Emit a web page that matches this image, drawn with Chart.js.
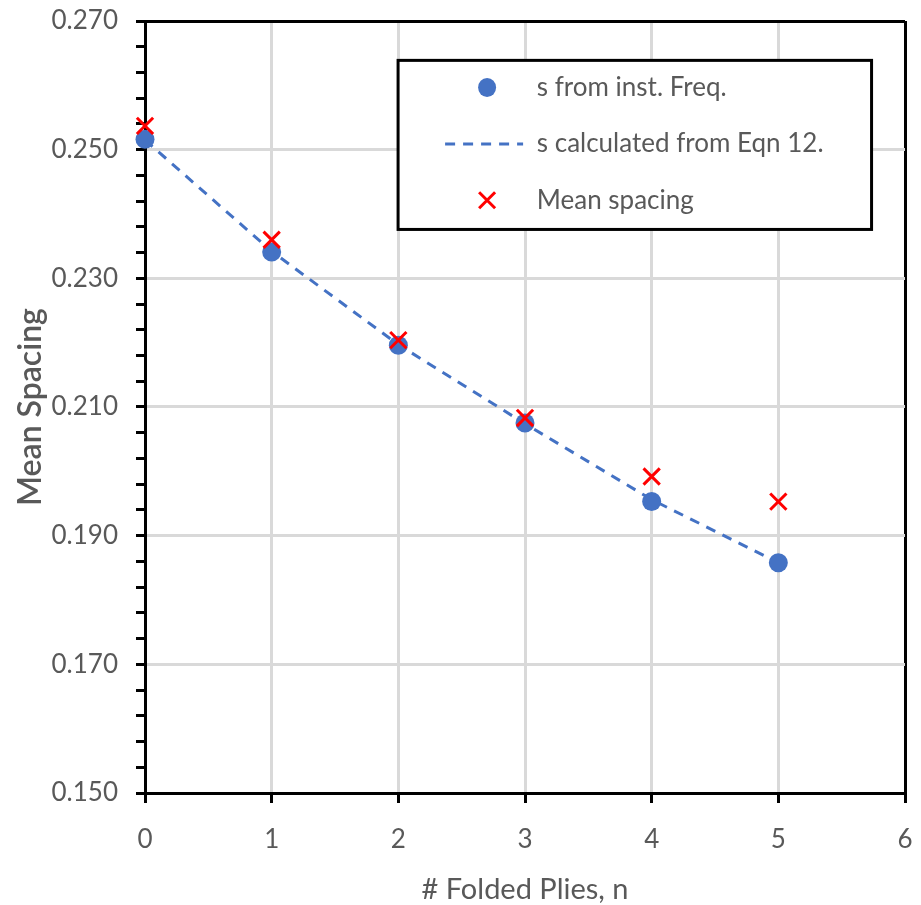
<!DOCTYPE html>
<html>
<head>
<meta charset="utf-8">
<script src="https://cdn.jsdelivr.net/npm/chart.js@4"></script>
<style>
  html, body { margin: 0; padding: 0; background: #ffffff; }
  #wrap { width: 921px; height: 905px; }
</style>
</head>
<body>
<div id="wrap"><canvas id="c" width="921" height="905"></canvas></div>
<script>
// Number of folded plies
const plies = [0, 1, 2, 3, 4, 5];
// Spacing derived from instantaneous frequency
const sInstFreq = [0.2516, 0.2341, 0.2196, 0.2075, 0.1953, 0.1858];
// Spacing predicted by Eqn 12
const sEqn12 = [0.2515, 0.2342, 0.2197, 0.2074, 0.1956, 0.1858];
// Measured mean spacing
const meanSpacing = [0.2537, 0.2360, 0.2204, 0.2083, 0.1992, 0.1953];

const seriesNames = ['s from inst. Freq.', 's calculated from Eqn 12.', 'Mean spacing'];
const xTitle = '# Folded Plies, n';
const yTitle = 'Mean Spacing';

const FONT = 'Lato, "Open Sans", sans-serif';
const GREY_TEXT = '#595959';
const GRID = '#d9d9d9';
const BLUE = '#4472c4';
const RED = '#ff0000';

const pts = (xs, ys) => xs.map((x, i) => ({ x: x, y: ys[i] }));

// Boxed legend drawn inside the plot area
const boxLegend = {
  id: 'boxLegend',
  afterDatasetsDraw(chart) {
    const { ctx, chartArea: a } = chart;
    const w = a.right - a.left, h = a.bottom - a.top;
    const L = a.left + 0.333 * w, R = a.left + 0.956 * w;
    const T = a.top + 0.051 * h, B = a.top + 0.270 * h;
    ctx.save();
    ctx.fillStyle = '#ffffff';
    ctx.fillRect(L, T, R - L, B - T);
    ctx.strokeStyle = '#000000';
    ctx.lineWidth = 3;
    ctx.strokeRect(L, T, R - L, B - T);

    const rowH = (B - T) / 3;
    const mx = L + 0.188 * (R - L);
    const tx = L + 0.293 * (R - L);
    ctx.font = '26px ' + FONT;
    ctx.textBaseline = 'middle';
    ctx.textAlign = 'left';
    chart.data.datasets.forEach((ds, i) => {
      const cy = T + rowH * (i + 0.5) - 1;
      if (i === 0) {
        ctx.beginPath();
        ctx.fillStyle = BLUE;
        ctx.ellipse(mx, cy, 9, 9.5, 0, 0, Math.PI * 2);
        ctx.fill();
      } else if (i === 1) {
        ctx.beginPath();
        ctx.strokeStyle = BLUE;
        ctx.lineWidth = 3;
        ctx.setLineDash([10, 8]);
        ctx.moveTo(mx - 42, cy);
        ctx.lineTo(mx + 36, cy);
        ctx.stroke();
        ctx.setLineDash([]);
      } else {
        ctx.beginPath();
        ctx.strokeStyle = RED;
        ctx.lineWidth = 3;
        const d = 8;
        ctx.moveTo(mx - d, cy - d); ctx.lineTo(mx + d, cy + d);
        ctx.moveTo(mx + d, cy - d); ctx.lineTo(mx - d, cy + d);
        ctx.stroke();
      }
      ctx.fillStyle = GREY_TEXT;
      ctx.fillText(ds.label, tx, cy);
    });
    ctx.restore();
  }
};

const isMajorY = v => Math.round(v * 1000) % 20 === 10;

new Chart(document.getElementById('c'), {
  type: 'scatter',
  data: {
    datasets: [
      {
        label: seriesNames[0],
        data: pts(plies, sInstFreq),
        pointStyle: 'circle',
        pointRadius: 9.5,
        pointHoverRadius: 9.5,
        backgroundColor: BLUE,
        borderColor: BLUE,
        borderWidth: 0,
        showLine: false,
        clip: false,
        order: 2
      },
      {
        label: seriesNames[1],
        type: 'line',
        data: pts(plies, sEqn12),
        borderColor: BLUE,
        borderWidth: 3,
        borderDash: [10, 8],
        pointRadius: 0,
        fill: false,
        tension: 0,
        clip: false,
        order: 3
      },
      {
        label: seriesNames[2],
        data: pts(plies, meanSpacing),
        pointStyle: 'crossRot',
        pointRadius: 11.5,
        pointHoverRadius: 11.5,
        borderColor: RED,
        backgroundColor: RED,
        pointBorderWidth: 3,
        showLine: false,
        clip: false,
        order: 1
      }
    ]
  },
  plugins: [boxLegend],
  options: {
    responsive: false,
    animation: false,
    devicePixelRatio: 1,
    layout: { padding: { top: 21, right: 16, left: 0, bottom: 0 } },
    plugins: {
      legend: { display: false },
      tooltip: { enabled: false }
    },
    scales: {
      x: {
        type: 'linear',
        min: 0,
        max: 6,
        ticks: {
          stepSize: 1,
          color: GREY_TEXT,
          font: { family: FONT, size: 26 },
          padding: 21,
          maxRotation: 0
        },
        grid: {
          color: c => (c.tick && c.tick.value === 6 ? '#000000' : GRID),
          lineWidth: 3,
          drawTicks: true,
          tickLength: 10,
          tickColor: '#000000',
          tickWidth: 3
        },
        border: { color: '#000000', width: 3 },
        title: {
          display: true,
          text: xTitle,
          color: GREY_TEXT,
          font: { family: FONT, size: 29, lineHeight: 1.05 },
          padding: { top: 0, bottom: 0 }
        },
        afterFit: s => {
          s.height = 112;
          s.paddingLeft = 0;
          s.paddingRight = 0;
        }
      },
      y: {
        type: 'linear',
        min: 0.150,
        max: 0.270,
        ticks: {
          stepSize: 0.004,
          autoSkip: false,
          color: GREY_TEXT,
          font: { family: FONT, size: 26 },
          padding: 18,
          callback: v => (isMajorY(v) ? v.toFixed(3) : '')
        },
        grid: {
          color: c => {
            if (!c.tick) return GRID;
            const k = Math.round(c.tick.value * 1000);
            if (k === 270) return '#000000';
            return isMajorY(c.tick.value) ? GRID : 'rgba(0,0,0,0)';
          },
          lineWidth: 3,
          drawTicks: true,
          tickLength: 9,
          tickColor: '#000000',
          tickWidth: 3
        },
        border: { color: '#000000', width: 3 },
        title: {
          display: true,
          text: yTitle,
          color: GREY_TEXT,
          font: { family: FONT, size: 32, weight: '600' },
          padding: { top: 11, bottom: 0 }
        },
        afterFit: s => {
          s.width = 145;
          s.paddingTop = 0;
          s.paddingBottom = 0;
        }
      }
    }
  }
});
</script>
</body>
</html>
